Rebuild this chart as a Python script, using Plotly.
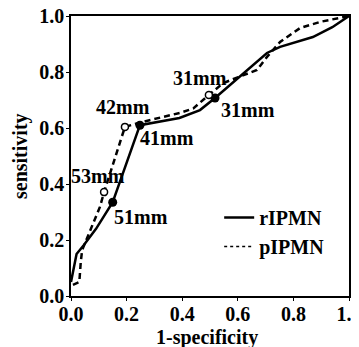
import plotly.graph_objects as go

# rIPMN (solid) curve
r_x = [0.0, 0.02, 0.045, 0.09, 0.15, 0.248, 0.39, 0.464, 0.518, 0.61, 0.705, 0.752, 0.87, 0.94, 1.0]
r_y = [0.05, 0.15, 0.18, 0.24, 0.335, 0.61, 0.636, 0.664, 0.707, 0.786, 0.868, 0.89, 0.925, 0.96, 1.0]
# pIPMN (dashed) curve
p_x = [0.007, 0.03, 0.035, 0.04, 0.104, 0.119, 0.194, 0.25, 0.392, 0.44, 0.496, 0.547, 0.597, 0.669, 0.705, 0.752, 0.824, 0.896, 1.0]
p_y = [0.04, 0.05, 0.12, 0.164, 0.318, 0.371, 0.604, 0.62, 0.654, 0.67, 0.718, 0.76, 0.78, 0.807, 0.854, 0.907, 0.957, 0.979, 1.0]

# cut-off points
r_mark_x = [0.15, 0.248, 0.518]
r_mark_y = [0.335, 0.61, 0.707]
p_mark_x = [0.119, 0.194, 0.496]
p_mark_y = [0.371, 0.604, 0.718]

label_text = ["51mm", "41mm", "31mm", "53mm", "42mm", "31mm"]
label_x = [0.252, 0.345, 0.637, 0.097, 0.187, 0.464]
label_y = [0.282, 0.564, 0.664, 0.429, 0.675, 0.779]

tick_vals = [0.0, 0.2, 0.4, 0.6, 0.8, 1.0]
tick_text = ["0.0", "0.2", "0.4", "0.6", "0.8", "1.0"]

x_title = "1-specificity"
y_title = "sensitivity"

FONT = "Liberation Serif"

def bold(size):
    return dict(family=FONT, size=size, color="black", weight="bold")

fig = go.Figure()
fig.add_trace(go.Scatter(x=r_x, y=r_y, mode="lines", line=dict(color="black", width=2.5),
                         showlegend=False, hoverinfo="skip"))
fig.add_trace(go.Scatter(x=p_x, y=p_y, mode="lines", line=dict(color="black", width=2.5, dash="6px,4px"),
                         showlegend=False, hoverinfo="skip"))
fig.add_trace(go.Scatter(x=r_mark_x, y=r_mark_y, mode="markers",
                         marker=dict(color="black", size=9), showlegend=False))
fig.add_trace(go.Scatter(x=p_mark_x, y=p_mark_y, mode="markers",
                         marker=dict(color="white", size=7, line=dict(color="black", width=1.5)), showlegend=False))
# legend entries
fig.add_trace(go.Scatter(x=[None], y=[None], mode="lines", name="rIPMN",
                         line=dict(color="black", width=2.5)))
fig.add_trace(go.Scatter(x=[None], y=[None], mode="lines", name="pIPMN",
                         line=dict(color="black", width=1.5, dash="dot")))

for t, x, y in zip(label_text, label_x, label_y):
    fig.add_annotation(x=x, y=y, text=t, showarrow=False, font=bold(20))

# axis titles
fig.add_annotation(x=0.489, y=0, xref="paper", yref="paper", yshift=-41, text=x_title,
                   xanchor="center", yanchor="middle", showarrow=False, font=bold(20))
fig.add_annotation(x=0, y=0.5, xref="paper", yref="paper", xshift=-51, text=y_title,
                   xanchor="center", yanchor="middle", textangle=-90, showarrow=False, font=bold(20))

axis_common = dict(range=[0, 1], tickvals=tick_vals, ticktext=tick_text, showgrid=False, zeroline=False,
                   showline=True, linecolor="black", linewidth=1.5, mirror=True,
                   ticks="outside", ticklen=3, tickcolor="black", automargin=False,
                   ticklabeloverflow="allow", tickfont=bold(20))

fig.update_layout(
    width=351, height=339,
    margin=dict(l=63, r=10, t=8, b=51),
    paper_bgcolor="white", plot_bgcolor="white",
    xaxis=dict(**axis_common, ticklabelstandoff=-4),
    yaxis=dict(**axis_common, ticklabelstandoff=-2),
    legend=dict(x=0.533, y=0.35, xanchor="left", yanchor="top", bgcolor="rgba(0,0,0,0)",
                font=bold(20), itemwidth=30),
)

fig.write_html("out.html")
